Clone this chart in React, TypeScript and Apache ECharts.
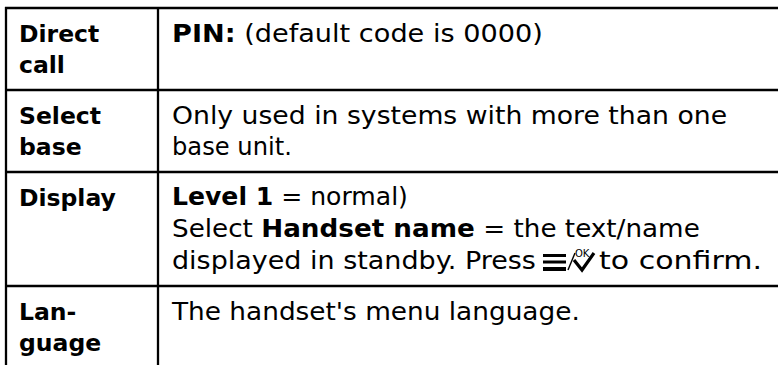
import React, { useEffect, useRef } from "react";
import * as echarts from "echarts";

// ---- content ----
const rowLabels: string[][] = [
  ["Direct", "call"],
  ["Select", "base"],
  ["Display"],
  ["Lan-", "guage"],
];
const rowDescriptions: string[][] = [
  ["{b|PIN:} (default code is 0000)"],
  ["Only used in systems with more than one", "base unit."],
  ["{b|Level 1} = normal)", "Select {b|Handset name} = the text/name", "displayed in standby. Press"],
  ["The handset's menu language."],
];
const iconTail = "to confirm.";
const okLabel = "OK";

// ---- layout ----
const W = 778;
const H = 365;
const FONT = "DejaVu Sans";
const FS = 25;
const LABEL_FS = 23.5;
const LINE_GAP = 31.5;
const ROW_TOPS = [8, 90, 172, 286];
const LEFT_X = 6;
const COL_X = 158;
const LABEL_X = 19;
const DESC_X = 172;
const FIRST_BASE = 34;
// right edges of the description lines
const LINE_ENDS: number[][] = [[543], [727, 292], [408, 700, 536], [580]];
const TAIL_X = 599;
const TAIL_END = 762;

function measure(text: string, fs: number, boldAll = false): number {
  const cv = document.createElement("canvas");
  const ctx = cv.getContext("2d")!;
  let total = 0;
  const re = /\{b\|([^}]*)\}|([^{]+)/g;
  let m: RegExpExecArray | null;
  while ((m = re.exec(text))) {
    const bold = boldAll || m[1] !== undefined;
    const seg = m[1] !== undefined ? m[1] : m[2];
    ctx.font = `${bold ? "bold " : ""}${fs}px "${FONT}"`;
    total += ctx.measureText(seg).width;
  }
  return total;
}

export default function App() {
  const ref = useRef<HTMLDivElement>(null);
  useEffect(() => {
    if (!ref.current) return;
    const chart = echarts.init(ref.current, undefined, { renderer: "svg" });
    const els: any[] = [];
    const stroke = { stroke: "#000", lineWidth: 2.3 };
    ROW_TOPS.forEach((y) => {
      els.push({ type: "line", shape: { x1: LEFT_X - 1, y1: y, x2: W, y2: y }, style: stroke });
    });
    [LEFT_X, COL_X].forEach((x) => {
      els.push({ type: "line", shape: { x1: x, y1: ROW_TOPS[0] - 1, x2: x, y2: H }, style: stroke });
    });
    const textEl = (text: string, x: number, base: number, bold: boolean, fs: number, scaleX = 1) => ({
      type: "text",
      x,
      y: base - fs * 0.36,
      scaleX,
      style: {
        text,
        fill: "#000",
        fontFamily: FONT,
        fontSize: fs,
        fontWeight: bold ? "bold" : "normal",
        verticalAlign: "middle",
        align: "left",
        rich: { b: { fontWeight: "bold", fontFamily: FONT, fontSize: fs, fill: "#000" } },
      },
    });
    rowLabels.forEach((lines, r) => {
      lines.forEach((t, i) => {
        els.push(textEl(t, LABEL_X, ROW_TOPS[r] + FIRST_BASE + i * LINE_GAP, true, LABEL_FS));
      });
    });
    rowDescriptions.forEach((lines, r) => {
      lines.forEach((t, i) => {
        const w = measure(t, FS);
        const sx = w > 0 ? (LINE_ENDS[r][i] - DESC_X) / w : 1;
        els.push(textEl(t, DESC_X, ROW_TOPS[r] + FIRST_BASE + i * LINE_GAP, false, FS, sx));
      });
    });
    // icon in Display row, third line
    const base = ROW_TOPS[2] + FIRST_BASE + 2 * LINE_GAP;
    const ix = 543;
    [0, 6.5, 13].forEach((dy, k) => {
      els.push({ type: "rect", shape: { x: ix, y: base - 15 + dy, width: 23, height: k === 2 ? 4 : 3 }, style: { fill: "#000" } });
    });
    els.push({ type: "line", shape: { x1: 568, y1: base + 1, x2: 575, y2: base - 16 }, style: { stroke: "#000", lineWidth: 1.4 } });
    els.push({
      type: "text", x: 575, y: base - 16,
      style: { text: okLabel, fill: "#000", fontFamily: FONT, fontSize: 10, verticalAlign: "middle", align: "left" },
    });
    els.push({ type: "polyline", shape: { points: [[574, base - 9], [582, base + 1], [594, base - 16]] }, style: { stroke: "#000", lineWidth: 3.2, fill: "none" } });
    const tw = measure(iconTail, FS);
    els.push(textEl(iconTail, TAIL_X, base, false, FS, (TAIL_END - TAIL_X) / tw));

    chart.setOption({
      animation: false,
      backgroundColor: "#fff",
      graphic: { elements: els },
    });
    return () => chart.dispose();
  }, []);
  return <div ref={ref} style={{ position: "fixed", left: 0, top: 0, width: W, height: H }} />;
}
